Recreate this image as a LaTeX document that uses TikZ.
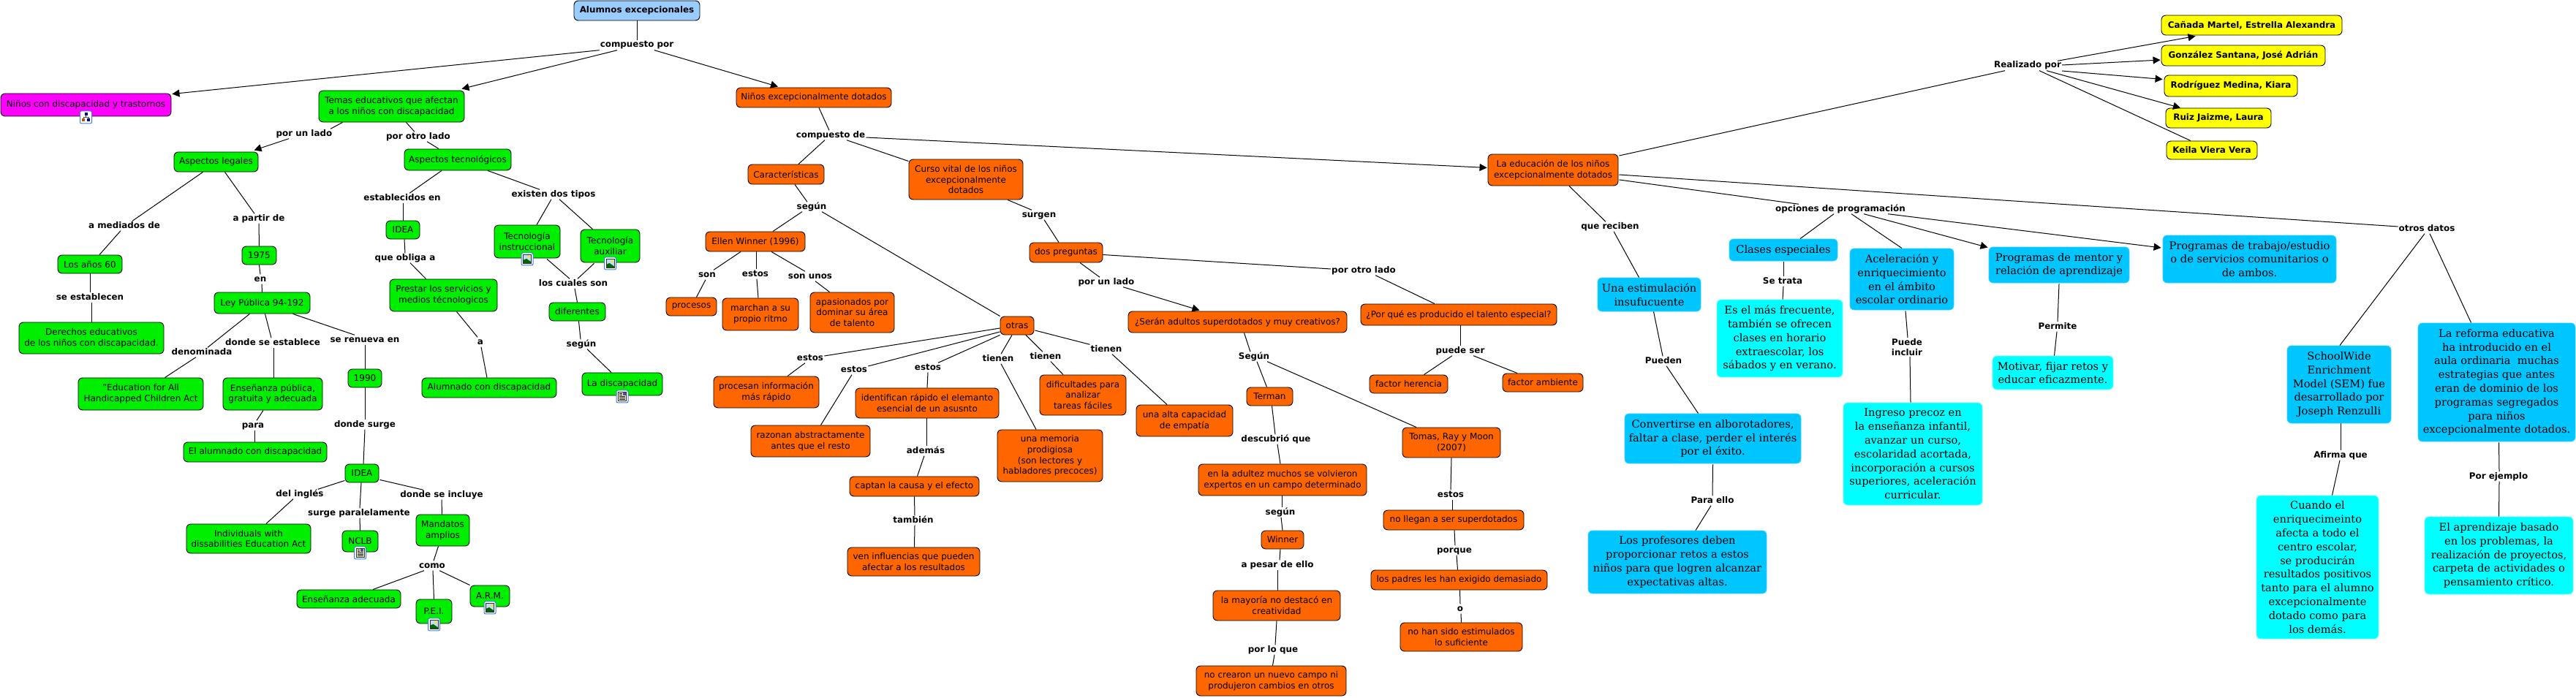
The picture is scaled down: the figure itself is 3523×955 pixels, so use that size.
\documentclass[tikz,border=0pt]{standalone}
\usepackage{fontspec}
\setmainfont{DejaVu Sans}
\newfontfamily\slabf{DejaVu Serif}
\usetikzlibrary{arrows.meta}
\definecolor{cgreen}{HTML}{00EE00}
\definecolor{corange}{HTML}{FF6600}
\definecolor{cblue}{HTML}{00C6FF}
\definecolor{ccyan}{HTML}{00FFFF}
\definecolor{cyellow}{HTML}{FFFF00}
\definecolor{croot}{HTML}{99CCFF}
\definecolor{cmag}{HTML}{FF00FF}
\definecolor{cframe}{HTML}{3F7FDF}
\definecolor{csky}{HTML}{BFDDF5}
\tikzset{
 cbox/.style={draw=black,line width=0.9pt,rounded corners=6pt,inner sep=0pt,align=center,font=\fontsize{12}{14.7}\selectfont},
 sgreen/.style={fill=cgreen},
 sorange/.style={fill=corange},
 syellow/.style={fill=cyellow,font=\fontsize{11.9}{14.7}\selectfont\bfseries},
 sroot/.style={fill=croot,font=\fontsize{11.9}{14.7}\selectfont\bfseries},
 smag/.style={fill=cmag},
 sblue/.style={fill=cblue,draw=cblue!80!white,font=\fontsize{14.6}{18.8}\selectfont\slabf},
 scyan/.style={fill=ccyan,draw=ccyan!60!white,font=\fontsize{14.6}{18.8}\selectfont\slabf},
 lab/.style={inner sep=1pt,text height=8.5pt,text depth=2.5pt,font=\fontsize{11.9}{14}\selectfont\bfseries},
 c/.style={line width=1pt,draw=black},
 arr/.style={-{Triangle[length=10pt,width=10pt]}},
 iconframe/.pic={\draw[cframe,fill=white,line width=1pt,rounded corners=2pt] (-8,-8.5) rectangle (8,8.5);},
 imgicon/.pic={\pic{iconframe};
   \fill[csky] (-5.5,-6) rectangle (5.5,6);
   \fill[yellow!90!orange] (2.5,-3) circle (1.8);
   \fill[green!40!black] (-5.5,6) -- (-5.5,1.5) -- (-1,-0.5) -- (5.5,4) -- (5.5,6) -- cycle;
   \draw[black!80,line width=0.7pt] (-5.5,-6) rectangle (5.5,6);},
 docicon/.pic={\pic{iconframe};
   \fill[yellow!25] (-5.5,-6) rectangle (5.5,6);
   \draw[black!80,line width=0.7pt] (-5.5,-6) rectangle (5.5,6);
   \fill[blue!40!gray] (0.5,-5) rectangle (4.5,-1);
   \foreach \yy/\xe in {-4/-0.5,-2/-0.5,0/4,2/4,4/4}{\draw[black,line width=0.6pt] (-4,\yy) -- (\xe,\yy);}},
 mapicon/.pic={\pic{iconframe};
   \draw[black!70,line width=0.6pt] (0,-3) -- (0,0) (-3.5,0) -- (3.5,0) (-3.5,0) -- (-3.5,3) (3.5,0) -- (3.5,3);
   \fill[blue!50!black] (-2,-6) rectangle (2,-2.5);
   \fill[orange!70!black] (-5.5,2) rectangle (-1.5,6);
   \fill[blue!60!black] (1.5,2) rectangle (5.5,6);},
}
\newcommand\bx[7][]{\pgfmathsetmacro\bxcx{(#3+#5)/2}\pgfmathsetmacro\bxcy{(#4+#6)/2}\pgfmathsetmacro\bxw{#5-#3}\pgfmathsetmacro\bxh{#6-#4}\node[cbox,#1,minimum width=\bxw pt,minimum height=\bxh pt] (#2) at (\bxcx,\bxcy) {#7};}
\newcommand\lb[4]{\node[lab] (#1) at (#2,#3) {#4};}
\newcommand\lk[5][]{\draw[c,#1] ([shift={(#3)}]#2) -- ([shift={(#5)}]#4);}
\begin{document}
\begin{tikzpicture}[x=1pt,y=-1pt]
\useasboundingbox (0,0) rectangle (3523,955);
% ---- nodes: root and left branch
\bx[sroot]{root}{785}{1}{957}{28}{Alumnos excepcionales}
\bx[smag]{nd}{1}{128}{234}{159}{Niños con discapacidad y trastornos}
\bx[sgreen]{temas}{436}{124}{635}{167}{Temas educativos que afectan\\a los niños con discapacidad}
\bx[sgreen]{legales}{238}{208}{353}{235}{Aspectos legales}
\bx[sgreen]{tecno}{553}{204}{699}{233}{Aspectos tecnológicos}
\bx[sgreen]{anos}{79}{349}{167}{374}{Los años 60}
\bx[sgreen]{n1975}{331}{337}{378}{362}{1975}
\bx[sgreen]{ideaa}{528}{302}{574}{327}{IDEA}
\bx[sgreen]{tins}{676}{308}{766}{353}{Tecnología\\instruccional}
\bx[sgreen]{taux}{794}{314}{875}{359}{Tecnología\\auxiliar}
\bx[sgreen]{ley}{293}{400}{424}{429}{Ley Pública 94-192}
\bx[sgreen]{prestar}{533}{382}{680}{426}{Prestar los servicios y\\medios técnologicos}
\bx[sgreen]{difer}{751}{414}{828}{439}{diferentes}
\bx[sgreen]{derechos}{26}{441}{224}{484}{Derechos educativos\\de los niños con discapacidad.}
\bx[sgreen]{edu}{107}{517}{278}{561}{"Education for All\\Handicapped Children Act}
\bx[sgreen]{ens}{305}{517}{441}{561}{Enseñanza pública,\\gratuita y adecuada}
\bx[sgreen]{n1990}{476}{505}{522}{530}{1990}
\bx[sgreen]{alum}{577}{517}{761}{544}{Alumnado con discapacidad}
\bx[sgreen]{disc}{796}{510}{906}{541}{La discapacidad}
\bx[sgreen]{elal}{251}{605}{447}{632}{El alumnado con discapacidad}
\bx[sgreen]{ideab}{472}{635}{518}{660}{IDEA}
\bx[sgreen]{ind}{255}{717}{425}{757}{Individuals with\\dissabilities Education Act}
\bx[sgreen]{nclb}{468}{726}{517}{755}{NCLB}
\bx[sgreen]{mand}{569}{704}{642}{747}{Mandatos\\amplios}
\bx[sgreen]{ensad}{406}{807}{548}{832}{Enseñanza adecuada}
\bx[sgreen]{pei}{569}{820}{618}{853}{P.E.I.}
\bx[sgreen]{arm}{643}{801}{697}{830}{A.R.M.}
% ---- orange
\bx[sorange]{nexc}{1007}{120}{1219}{147}{Niños excepcionalmente dotados}
\bx[sorange]{car}{1023}{225}{1127}{252}{Características}
\bx[sorange]{curso}{1243}{218}{1399}{273}{Curso vital de los niños\\excepcionalmente\\dotados}
\bx[sorange]{ellen}{965}{317}{1101}{344}{Ellen Winner (1996)}
\bx[sorange]{dos}{1408}{332}{1508}{359}{dos preguntas}
\bx[sorange]{procesos}{911}{407}{980}{432}{procesos}
\bx[sorange]{marchan}{988}{408}{1092}{452}{marchan a su\\propio ritmo}
\bx[sorange]{apas}{1108}{400}{1223}{455}{apasionados por\\dominar su área\\de talento}
\bx[sorange]{otras}{1368}{433}{1414}{458}{otras}
\bx[sorange]{sera}{1543}{426}{1842}{455}{¿Serán adultos superdotados y muy creativos?}
\bx[sorange]{procinf}{976}{515}{1120}{558}{procesan información\\más rápido}
\bx[sorange]{raz}{1027}{582}{1190}{625}{razonan abstractamente\\antes que el resto}
\bx[sorange]{ident}{1170}{531}{1366}{572}{identifican rápido el elemanto\\esencial de un asusnto}
\bx[sorange]{dif}{1422}{513}{1540}{568}{dificultades para\\analizar\\tareas fáciles}
\bx[sorange]{alta}{1554}{554}{1686}{597}{una alta capacidad\\de empatía}
\bx[sorange]{memo}{1364}{588}{1508}{659}{una memoria\\prodigiosa\\(son lectores y\\habladores precoces)}
\bx[sorange]{captan}{1162}{652}{1339}{679}{captan la causa y el efecto}
\bx[sorange]{ven}{1159}{749}{1340}{788}{ven influencias que pueden\\afectar a los resultados}
\bx[sorange]{terman}{1705}{530}{1768}{555}{Terman}
\bx[sorange]{adultez}{1639}{635}{1869}{678}{en la adultez muchos se volvieron\\expertos en un campo determinado}
\bx[sorange]{winner}{1725}{726}{1783}{751}{Winner}
\bx[sorange]{mayoria}{1659}{808}{1833}{849}{la mayoría no destacó en\\creatividad}
\bx[sorange]{nocrea}{1636}{911}{1841}{952}{no crearon un nuevo campo ni\\produjeron cambios en otros}
\bx[sorange]{educ}{2035}{211}{2213}{254}{La educación de los niños\\excepcionalmente dotados}
\bx[sorange]{porq}{1861}{416}{2129}{445}{¿Por qué es producido el talento especial?}
\bx[sorange]{fher}{1873}{513}{1980}{538}{factor herencia}
\bx[sorange]{famb}{2055}{511}{2165}{536}{factor ambiente}
\bx[sorange]{tomas}{1918}{585}{2052}{626}{Tomas, Ray y Moon\\(2007)}
\bx[sorange]{nollegan}{1892}{698}{2084}{725}{no llegan a ser superdotados}
\bx[sorange]{padres}{1875}{780}{2116}{807}{los padres les han exigido demasiado}
\bx[sorange]{noshan}{1915}{852}{2082}{891}{no han sido estimulados\\lo suficiente}
% ---- blue and cyan
\bx[sblue]{estim}{2185}{380}{2326}{426}{Una estimulación\\insufucuente}
\bx[sblue]{clases}{2365}{327}{2513}{357}{Clases especiales}
\bx[sblue]{acel}{2530}{340}{2672}{424}{Aceleración y\\enriquecimiento\\en el ámbito\\escolar ordinario}
\bx[scyan]{esmas}{2348}{410}{2520}{516}{Es el más frecuente,\\también se ofrecen\\clases en horario\\extraescolar, los\\sábados y en verano.}
\bx[sblue]{conv}{2222}{566}{2463}{634}{Convertirse en alborotadores,\\faltar a clase, perder el interés\\por el éxito.}
\bx[sblue]{prof}{2172}{726}{2416}{812}{Los profesores deben\\proporcionar retos a estos\\niños para que logren alcanzar\\expectativas altas.}
\bx[scyan]{ingreso}{2521}{551}{2711}{691}{Ingreso precoz en\\la enseñanza infantil,\\avanzar un curso,\\escolaridad acortada,\\incorporación a cursos\\superiores, aceleración\\curricular.}
\bx[sblue]{mentor}{2720}{338}{2912}{387}{Programas de mentor y\\relación de aprendizaje}
\bx[sblue]{progs}{2958}{322}{3195}{387}{Programas de trabajo/estudio\\o de servicios comunitarios o\\de ambos.}
\bx[scyan]{motivar}{2725}{487}{2890}{533}{Motivar, fijar retos y\\educar eficazmente.}
\bx[sblue]{school}{3128}{473}{3270}{579}{SchoolWide\\Enrichment\\Model (SEM) fue\\desarrollado por\\Joseph Renzulli}
\bx[sblue]{reforma}{3307}{442}{3522}{604}{La reforma educativa\\ha introducido en el\\aula ordinaria\ \ muchas\\estrategias que antes\\eran de dominio de los\\programas segregados\\para niños\\excepcionalmente dotados.}
\bx[scyan]{cuando}{3086}{678}{3253}{874}{Cuando el\\enriquecimeinto\\afecta a todo el\\centro escolar,\\se producirán\\resultados positivos\\tanto para el alumno\\excepcionalmente\\dotado como para\\los demás.}
\bx[scyan]{aprend}{3316}{707}{3519}{813}{El aprendizaje basado\\en los problemas, la\\realización de proyectos,\\carpeta de actividades o\\pensamiento crítico.}
% ---- yellow
\bx[syellow]{canada}{2956}{21}{3203}{48}{Cañada Martel, Estrella Alexandra}
\bx[syellow]{gonz}{2956}{62}{3180}{90}{González Santana, José Adrián}
\bx[syellow]{rodr}{2960}{103}{3142}{132}{Rodríguez Medina, Kiara}
\bx[syellow]{ruiz}{2962}{148}{3106}{175}{Ruiz Jaizme, Laura}
\bx[syellow]{keila}{2963}{193}{3087}{218}{Keila Viera Vera}
% ---- icons
\path (nd.south) ++(0,1) pic {mapicon};
\path (tins.south) ++(0,1) pic {imgicon};
\path (taux.south) ++(0,1) pic {imgicon};
\path (disc.south) ++(0,1) pic {docicon};
\path (nclb.south) ++(0,1) pic {docicon};
\path (pei.south) ++(0,1) pic {imgicon};
\path (arm.south) ++(0,1) pic {imgicon};
% ---- link labels
\lb{lcp}{871}{62}{compuesto por}
\lb{lpu}{416}{183}{por un lado}
\lb{lpo}{572}{187}{por otro lado}
\lb{lmed}{170}{309}{a mediados de}
\lb{lpar}{354}{299}{a partir de}
\lb{lest}{550}{271}{establecidos en}
\lb{lexi}{757}{266}{existen dos tipos}
\lb{lobl}{554}{353}{que obliga a}
\lb{lcua}{784}{388}{los cuales son}
\lb{lsee}{123}{407}{se establecen}
\lb{len}{356}{382}{en}
\lb{lseg}{795}{471}{según}
\lb{ldon}{373}{469}{donde se establece}
\lb{lren}{499}{465}{se renueva en}
\lb{la}{657}{468}{a}
\lb{lden}{276}{482}{denominada}
\lb{lpara}{346}{582}{para}
\lb{lsur}{499}{581}{donde surge}
\lb{ling}{410}{676}{del inglés}
\lb{lspa}{491}{702}{surge paralelamente}
\lb{linc}{604}{677}{donde se incluye}
\lb{lcom}{591}{774}{como}
\lb{lcpd}{1136}{185}{compuesto de}
\lb{lsegb}{1110}{283}{según}
\lb{lsrg}{1421}{294}{surgen}
\lb{lson}{967}{376}{son}
\lb{lesa}{1033}{375}{estos}
\lb{lsun}{1108}{378}{son unos}
\lb{lpub}{1513}{386}{por un lado}
\lb{ltic}{1513}{478}{tienen}
\lb{lesb}{1108}{490}{estos}
\lb{lesc}{1168}{506}{estos}
\lb{lesd}{1269}{503}{estos}
\lb{ltia}{1365}{491}{tienen}
\lb{ltib}{1430}{488}{tienen}
\lb{lsgn}{1715}{488}{Según}
\lb{lade}{1266}{617}{además}
\lb{ltam}{1249}{712}{también}
\lb{ldes}{1745}{601}{descubrió que}
\lb{lsegc}{1751}{701}{según}
\lb{lpes}{1747}{773}{a pesar de ello}
\lb{lplq}{1741}{889}{por lo que}
\lb{lrec}{2202}{310}{que reciben}
\lb{lopc}{2517}{286}{opciones de programación}
\lb{lpob}{1865}{370}{por otro lado}
\lb{ltra}{2438}{385}{Se trata}
\node[lab,align=center,text height=,text depth=] (lpin) at (2608,475) {Puede\\incluir};
\lb{lpue}{1997}{480}{puede ser}
\lb{lpdn}{2275}{494}{Pueden}
\lb{lese}{1984}{677}{estos}
\lb{lprq}{1989}{753}{porque}
\lb{lo}{1997}{833}{o}
\lb{lell}{2342}{685}{Para ello}
\lb{lrea}{2773}{90}{Realizado por}
\lb{lotr}{3319}{313}{otros datos}
\lb{lper}{2814}{447}{Permite}
\lb{lafi}{3201}{623}{Afirma que}
\lb{lpej}{3417}{652}{Por ejemplo}
% ---- connectors
\lk{root.south}{0,0}{lcp.north}{0,0}
\lk[arr]{lcp.south west}{0,0}{nd.north east}{1,1}
\lk[arr]{lcp.south}{-27,0}{temas.north east}{-4,-2}
\lk[arr]{lcp.south}{24,0}{nexc.north}{-49,-1}
\lk{temas.south}{-67,0}{lpu.north}{36,0}
\lk[arr]{lpu.south}{-21,0}{legales.north}{52,-2}
\lk{temas.south}{20,0}{lpo.north}{-5,0}
\lk{lpo.south}{12,0}{tecno.north}{-26,0}
\lk{legales.south}{-18,0}{lmed.north}{11,0}
\lk{lmed.south}{-5,0}{anos.north}{13,0}
\lk{legales.south}{12,0}{lpar.north}{-6,0}
\lk{lpar.south}{0,0}{n1975.north}{0,0}
\lk{anos.south}{0,0}{lsee.north}{0,0}
\lk{lsee.south}{2,0}{derechos.north}{0,0}
\lk{n1975.south}{0,0}{len.north}{0,0}
\lk{len.south}{2,0}{ley.north}{0,0}
\lk{ley.south}{-17,0}{lden.north}{8,0}
\lk{lden.south}{-8,0}{edu.north}{33,0}
\lk{ley.south}{4,0}{ldon.north}{-2,0}
\lk{ldon.south}{1,0}{ens.north}{1,0}
\lk{ley.south}{42,0}{lren.north}{-14,0}
\lk{lren.south}{0,0}{n1990.north}{0,0}
\lk{n1990.south}{0,0}{lsur.north}{0,0}
\lk{lsur.south}{0,0}{ideab.north}{2,0}
\lk{ens.south}{-13,0}{lpara.north}{5,0}
\lk{lpara.south}{2,0}{elal.north}{-1,0}
\lk{ideab.south west}{0,-3}{ling.north}{25,0}
\lk{ling.south}{-9,0}{ind.north}{24,0}
\lk{ideab.south}{-1,0}{lspa.north}{1,0}
\lk{lspa.south}{1,0}{nclb.north}{0,0}
\lk{ideab.south east}{1,-4}{linc.north}{-25,0}
\lk{linc.south}{0,0}{mand.north}{-1,0}
\lk{mand.south}{-6,0}{lcom.north}{2,0}
\lk{lcom.south}{-11,0}{ensad.north}{33,0}
\lk{lcom.south}{1,0}{pei.north}{0,0}
\lk{lcom.south}{10,0}{arm.north west}{0,0}
\lk{tecno.south}{-22,0}{lest.north}{10,0}
\lk{lest.south}{1,0}{ideaa.north}{0,0}
\lk{ideaa.south}{2,0}{lobl.north}{0,0}
\lk{lobl.south}{7,0}{prestar.north}{-24,0}
\lk{prestar.south}{18,0}{la.north}{-4,0}
\lk{la.south}{1,0}{alum.north}{-3,0}
\lk{tecno.south}{41,0}{lexi.north}{-19,0}
\lk{lexi.south}{-3,0}{tins.north}{13,0}
\lk{lexi.south}{8,0}{taux.north}{-24,0}
\lk{tins.south}{27,1}{lcua.north}{-5,0}
\lk{taux.south}{-22,1}{lcua.north}{6,0}
\lk{lcua.south}{2,0}{difer.north}{0,0}
\lk{difer.south}{2,0}{lseg.north}{-1,0}
\lk{lseg.south}{8,0}{disc.north}{-15,0}
\lk{nexc.south}{7,0}{lcpd.north}{-2,0}
\lk{lcpd.south}{-8,0}{car.north}{17,0}
\lk{lcpd.south}{22,0}{curso.north west}{0,3}
\lk[arr]{lcpd.east}{0,3}{educ.west}{-1,-3}
\lk{car.south}{12,0}{lsegb.north}{-6,0}
\lk{lsegb.south}{-13,0}{ellen.north}{24,0}
\lk{lsegb.south}{14,0}{otras.north west}{0,0}
\lk{ellen.south}{-20,0}{lson.north}{9,0}
\lk{lson.south}{-2,0}{procesos.north}{7,0}
\lk{ellen.south}{1,0}{lesa.north}{1,0}
\lk{lesa.south}{2,0}{marchan.north}{-3,0}
\lk{ellen.south}{22,0}{lsun.north}{-7,0}
\lk{lsun.south}{7,0}{apas.north}{-31,0}
\lk{curso.south}{57,0}{lsrg.north}{-10,0}
\lk{lsrg.south}{7,0}{dos.north}{-10,0}
\lk{dos.south}{19,0}{lpub.north}{-9,0}
\lk[arr]{lpub.south}{23,0}{sera.north}{-52,-1}
\lk{dos.east}{0,3}{lpob.west}{0,-2}
\lk{lpob.south}{16,0}{porq.north}{-33,0}
\lk{porq.south}{2,0}{lpue.north}{0,0}
\lk{lpue.south}{-11,0}{fher.north}{21,0}
\lk{lpue.south}{18,0}{famb.north}{-35,0}
\lk{sera.south}{9,0}{lsgn.north}{-5,0}
\lk{lsgn.south}{4,0}{terman.north}{-4,0}
\lk{lsgn.south}{18,0}{tomas.north}{-48,0}
\lk{terman.south}{3,0}{ldes.north}{-1,0}
\lk{ldes.south}{2,0}{adultez.north}{-3,0}
\lk{adultez.south}{-1,0}{lsegc.north}{2,0}
\lk{lsegc.south}{1,0}{winner.north}{0,0}
\lk{winner.south}{-3,0}{lpes.north}{3,0}
\lk{lpes.south}{0,0}{mayoria.north}{1,0}
\lk{mayoria.south}{0,0}{lplq.north}{3,0}
\lk{lplq.south}{2,0}{nocrea.north}{2,0}
\lk{tomas.south}{0,0}{lese.north}{0,0}
\lk{lese.south}{2,0}{nollegan.north}{-2,0}
\lk{nollegan.south}{1,0}{lprq.north}{1,0}
\lk{lprq.south}{3,0}{padres.north}{-2,0}
\lk{padres.south}{1,0}{lo.north}{0,0}
\lk{lo.south}{1,0}{noshan.north}{0,0}
\lk{otras.west}{0,3.5}{lesb.east}{0,-3}
\lk{lesb.south}{-7,0}{procinf.north}{29,0}
\lk{otras.west}{0,8.5}{lesc.east}{0,-5}
\lk{lesc.south}{-3,0}{raz.north}{14,0}
\lk{otras.south west}{0,0}{lesd.north}{14,0}
\lk{lesd.south}{0,0}{ident.north}{0,0}
\lk{otras.south}{-7,0}{ltia.north}{4,0}
\lk{ltia.south}{4,0}{memo.north}{-19,0}
\lk{otras.south}{12,0}{ltib.north}{-4,0}
\lk{ltib.south}{7,0}{dif.north}{-27,0}
\lk{otras.east}{1,6.5}{ltic.north west}{0,0}
\lk{ltic.south}{8,0}{alta.north}{-24,0}
\lk{ident.south}{-1,0}{lade.north}{1,0}
\lk{lade.south}{-2,0}{captan.north}{4,0}
\lk{captan.south}{0,0}{ltam.north}{2,0}
\lk{ltam.south}{2,0}{ven.north}{1,0}
\lk{educ.east}{1,-19.5}{lrea.south}{-31,0}
\lk[arr]{lrea.north}{41,0}{canada.south}{-77,1}
\lk[arr]{lrea.east}{0,-1}{gonz.west}{-1,6}
\lk[arr]{lrea.east}{0,7}{rodr.west}{-2,-9}
\lk[arr]{lrea.south}{26,0}{ruiz.north}{-52,0}
\lk{lrea.south}{16,0}{keila.north}{-29,0}
\lk{educ.south}{22,0}{lrec.north}{-6,0}
\lk{lrec.south}{5,0}{estim.north}{-14,0}
\lk{estim.south}{6,0}{lpdn.north}{-1,0}
\lk{lpdn.south}{4,0}{conv.north}{-20,0}
\lk{conv.south}{0,1}{lell.north}{0,0}
\lk{lell.south}{-2,0}{prof.north}{25,0}
\lk{educ.east}{1,13.5}{lopc.north}{-57,0}
\lk{lopc.south}{-9,0}{clases.north}{23,0}
\lk{clases.south}{0,1}{ltra.north}{1,0}
\lk{ltra.south}{1,0}{esmas.north}{4,0}
\lk{lopc.south}{15,0}{acel.north}{0,0}
\lk{acel.south}{5,1}{lpin.north}{1,0}
\lk{lpin.south}{4,0}{ingreso.north}{-3,0}
\lk[arr]{lopc.south}{32,0}{mentor.north west}{-1,1}
\lk[arr]{lopc.south}{65,0}{progs.west}{-2,-15.5}
\lk{educ.east}{1,6.5}{lotr.west}{0,-3}
\lk{lotr.south}{-3,0}{school.north}{1,0}
\lk{lotr.south}{4,0}{reforma.north}{-35,0}
\lk{mentor.south}{0,1}{lper.north}{0,0}
\lk{lper.south}{-1,0}{motivar.north}{2,0}
\lk{school.south}{2,0}{lafi.north}{0,0}
\lk{lafi.south}{-1,0}{cuando.north}{20,0}
\lk{reforma.south}{3,1}{lpej.north}{1,0}
\lk{lpej.south}{1,0}{aprend.north}{0,0}
\end{tikzpicture}
\end{document}
